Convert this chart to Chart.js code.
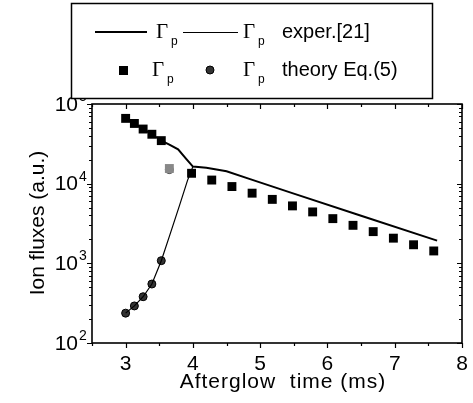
<!DOCTYPE html>
<html>
<head>
<meta charset="utf-8">
<script src="https://cdn.jsdelivr.net/npm/chart.js@4"></script>
<style>
  html, body { margin: 0; padding: 0; background: #fff; }
  #wrap { width: 473px; height: 403px; }
</style>
</head>
<body>
<div id="wrap"><canvas id="fluxChart" width="473" height="403"></canvas></div>
<script>
// measured flux, squares
const squareTimes = [3.0, 3.13, 3.26, 3.39, 3.53, 3.65, 3.98, 4.28, 4.58, 4.88, 5.18, 5.48, 5.78, 6.08, 6.38, 6.68, 6.98, 7.28, 7.58];
const squareFlux  = [6.6e4, 5.7e4, 4.85e4, 4.17e4, 3.47e4, 1.55e4, 1.35e4, 1.11e4, 9.2e3, 7.6e3, 6.35e3, 5.26e3, 4.42e3, 3.64e3, 3.0e3, 2.5e3, 2.07e3, 1.71e3, 1.43e3];

// theory Eq.(5), circles
const theoryTimes = [3.0, 3.13, 3.26, 3.39, 3.53, 3.65];
const theoryFlux  = [237, 292, 381, 550, 1080, 1.5e4];

// thick line
const gammaTimes = [3.0, 3.13, 3.26, 3.39, 3.53, 3.65, 3.78, 3.9, 4.0, 4.2, 4.5, 4.85, 5.5, 6.5, 7.63];
const gammaFlux  = [6.6e4, 5.7e4, 4.85e4, 4.17e4, 3.47e4, 3.1e4, 2.7e4, 2.05e4, 1.64e4, 1.58e4, 1.43e4, 1.14e4, 7.5e3, 3.95e3, 1.93e3];

// thin line, exper.[21]
const experTimes = [3.0, 3.13, 3.26, 3.39, 3.53, 3.65, 3.8, 3.92, 4.0];
const experFlux  = [237, 292, 381, 550, 1080, 2180, 5300, 1.1e4, 1.64e4];

const xTicks = [3, 4, 5, 6, 7, 8];
const yDecades = [2, 3, 4, 5];

const SANS = '"Liberation Sans", Arial, sans-serif';
const SERIF = '"Liberation Serif", "Times New Roman", serif';

function pts(xs, ys) {
  return xs.map((x, i) => ({ x: x, y: ys[i] }));
}

// frame, ticks, tick labels, axis titles and the boxed legend
const decorations = {
  id: 'decorations',
  afterDraw(chart) {
    const ctx = chart.ctx;
    const a = chart.chartArea;
    const xs = chart.scales.x;
    const ys = chart.scales.y;
    ctx.save();
    ctx.strokeStyle = '#000';
    ctx.fillStyle = '#000';

    // frame
    ctx.lineWidth = 1.6;
    ctx.strokeRect(a.left, a.top, a.right - a.left, a.bottom - a.top);

    // x ticks: bottom outward, top inward
    ctx.lineWidth = 1.2;
    for (let v = 2.5; v <= 8.001; v += 0.5) {
      const px = Math.round(xs.getPixelForValue(v)) + 0.5;
      const major = Math.abs(v - Math.round(v)) < 1e-6;
      const len = major ? 5 : 3;
      ctx.beginPath();
      ctx.moveTo(px, a.bottom); ctx.lineTo(px, a.bottom + len);
      ctx.moveTo(px, a.top); ctx.lineTo(px, a.top + len);
      ctx.stroke();
    }
    // y ticks: left outward, right inward
    for (let d = 2; d <= 5; d++) {
      for (let m = 1; m <= 9; m++) {
        const v = m * Math.pow(10, d);
        if (v > 1e5) break;
        const py = Math.round(ys.getPixelForValue(v)) + 0.5;
        const len = m === 1 ? 5 : 3;
        ctx.beginPath();
        ctx.moveTo(a.left, py); ctx.lineTo(a.left - len, py);
        ctx.moveTo(a.right, py); ctx.lineTo(a.right - len, py);
        ctx.stroke();
      }
    }

    // x tick labels
    ctx.font = '21px ' + SANS;
    ctx.textAlign = 'center';
    ctx.textBaseline = 'middle';
    xTicks.forEach(t => {
      ctx.fillText(String(t), xs.getPixelForValue(t), 364);
    });

    // y tick labels 10^n
    yDecades.forEach(d => {
      const py = ys.getPixelForValue(Math.pow(10, d));
      ctx.font = '21px ' + SANS;
      ctx.textAlign = 'right';
      ctx.textBaseline = 'middle';
      ctx.fillText('10', 78, py + 1);
      ctx.font = '14px ' + SANS;
      ctx.textAlign = 'left';
      ctx.fillText(String(d), 79, py - 7);
    });

    // axis titles
    ctx.font = '21px ' + SANS;
    ctx.textAlign = 'center';
    ctx.textBaseline = 'alphabetic';
    ctx.letterSpacing = '1px';
    ctx.fillText('Afterglow  time (ms)', 283, 388);
    ctx.letterSpacing = '0px';
    ctx.save();
    ctx.translate(38, 223);
    ctx.rotate(-Math.PI / 2);
    ctx.textBaseline = 'middle';
    ctx.fillText('Ion fluxes (a.u.)', 0, 0);
    ctx.restore();

    // legend box
    ctx.fillStyle = '#fff';
    ctx.fillRect(71, 3, 362, 96);
    ctx.fillStyle = '#000';
    ctx.lineWidth = 1.5;
    ctx.strokeRect(71.5, 3.5, 361, 95);

    const gammaP = (x, base) => {
      ctx.font = '21px ' + SERIF;
      ctx.textAlign = 'left';
      ctx.textBaseline = 'alphabetic';
      ctx.fillText('\u0393', x, base);
      ctx.font = '12px ' + SANS;
      ctx.fillText('p', x + 15, base + 7);
    };

    // row 1: lines
    ctx.lineWidth = 2;
    ctx.beginPath(); ctx.moveTo(95, 32); ctx.lineTo(147, 32); ctx.stroke();
    gammaP(156, 38);
    ctx.lineWidth = 1;
    ctx.beginPath(); ctx.moveTo(183, 32.5); ctx.lineTo(238, 32.5); ctx.stroke();
    gammaP(243, 38);
    ctx.font = '20px ' + SANS;
    ctx.fillText('exper.[21]', 282, 38);

    // row 2: markers
    ctx.fillRect(119, 66, 9, 9);
    gammaP(152, 76);
    ctx.beginPath();
    ctx.arc(210, 70, 4, 0, Math.PI * 2);
    ctx.fillStyle = '#333';
    ctx.fill();
    ctx.lineWidth = 1;
    ctx.stroke();
    ctx.fillStyle = '#000';
    gammaP(243, 76);
    ctx.font = '20px ' + SANS;
    ctx.fillText('theory Eq.(5)', 282, 76);

    ctx.restore();
  }
};

const ctx = document.getElementById('fluxChart').getContext('2d');
const fluxChart = new Chart(ctx, {
  type: 'scatter',
  data: {
    datasets: [
      {
        label: 'exper',
        data: pts(experTimes, experFlux),
        showLine: true,
        borderColor: '#000',
        borderWidth: 1.2,
        pointRadius: 0,
        tension: 0
      },
      {
        label: 'gamma',
        data: pts(gammaTimes, gammaFlux),
        showLine: true,
        borderColor: '#000',
        borderWidth: 2,
        pointRadius: 0,
        tension: 0
      },
      {
        label: 'squares',
        data: pts(squareTimes, squareFlux),
        pointStyle: 'rect',
        pointRadius: 6.3,
        pointBorderWidth: 0,
        pointBackgroundColor: squareTimes.map(t => (t === 3.65 ? '#888' : '#000')),
        borderColor: 'rgba(0,0,0,0)'
      },
      {
        label: 'theory',
        data: pts(theoryTimes, theoryFlux),
        pointStyle: 'circle',
        pointRadius: 4,
        pointBorderWidth: 1,
        pointBackgroundColor: theoryTimes.map(t => (t === 3.65 ? '#aaa' : '#333')),
        pointBorderColor: theoryTimes.map(t => (t === 3.65 ? '#444' : '#000'))
      }
    ]
  },
  options: {
    responsive: false,
    animation: false,
    events: [],
    layout: { padding: { left: 0, top: 104, right: 11, bottom: 0 } },
    plugins: {
      legend: { display: false },
      tooltip: { enabled: false }
    },
    scales: {
      x: {
        type: 'linear',
        min: 2.5,
        max: 8,
        grid: { display: false },
        border: { display: false },
        ticks: { display: false },
        afterFit(scale) { scale.height = 60; }
      },
      y: {
        type: 'logarithmic',
        min: 100,
        max: 1e5,
        grid: { display: false },
        border: { display: false },
        ticks: { display: false },
        afterFit(scale) { scale.width = 92; }
      }
    }
  },
  plugins: [decorations]
});
</script>
</body>
</html>
